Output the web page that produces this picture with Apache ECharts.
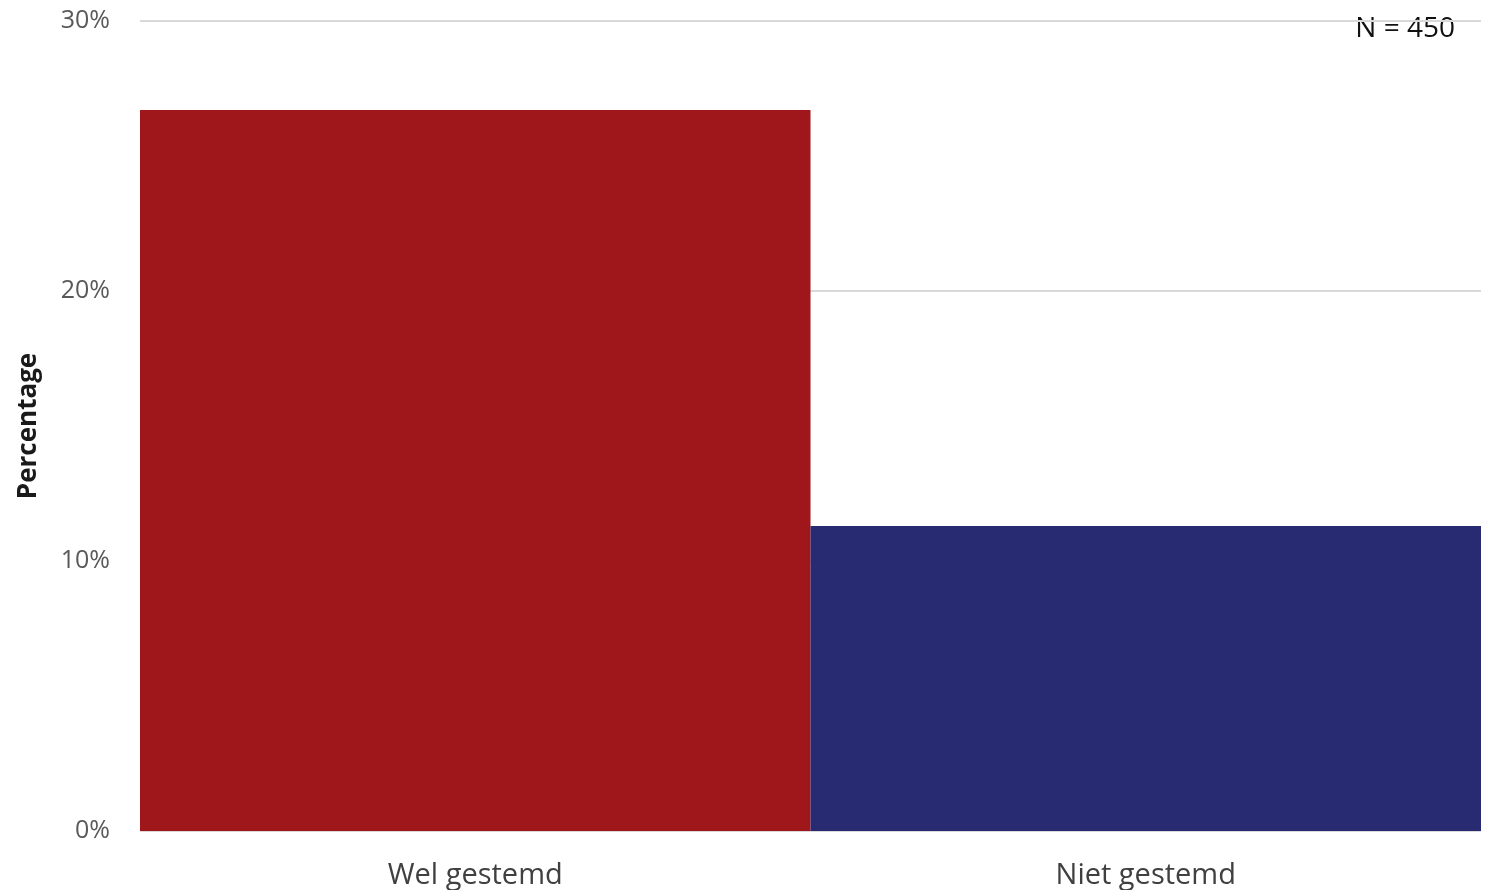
<!DOCTYPE html>
<html><head><meta charset="utf-8">
<script src="https://cdn.jsdelivr.net/npm/echarts@6/dist/echarts.min.js"></script>
<style>html,body{margin:0;padding:0;background:#fff}#c{width:1493px;height:890px}</style>
</head><body><div id="c"></div>
<script>
const categories = ['Wel gestemd', 'Niet gestemd'];
const values = [26.7, 11.3];
const barColors = ['#A0171B', '#282A72'];
const yTicks = [0, 10, 20, 30];

const chart = echarts.init(document.getElementById('c'));
chart.setOption({
  animation: false,
  grid: { left: 140, right: 12, top: 21, bottom: 58 },
  xAxis: {
    type: 'category', data: categories,
    axisLine: { show: false }, axisTick: { show: false },
    axisLabel: { color: '#404040', fontSize: 29, fontFamily: 'Open Sans', margin: 30 }
  },
  yAxis: {
    type: 'value', min: yTicks[0], max: yTicks[yTicks.length - 1], interval: 10,
    name: 'Percentage', nameLocation: 'middle', nameGap: 98, nameRotate: 90,
    nameTextStyle: { color: '#1a1a1a', fontSize: 26, fontWeight: 'bold', fontFamily: 'Open Sans' },
    axisLabel: { color: '#595959', fontSize: 25, fontFamily: 'Open Sans', margin: 30, formatter: '{value}%' },
    splitLine: { lineStyle: { color: '#d9d9d9', width: 2 } },
    axisLine: { show: false }, axisTick: { show: false }
  },
  series: [{
    type: 'bar', barCategoryGap: 0,
    data: values.map((v, i) => ({ value: v, itemStyle: { color: barColors[i] } }))
  }],
  graphic: [{
    type: 'text', right: 38, top: 15,
    style: { text: 'N = 450', fill: '#111', fontSize: 28, fontFamily: 'Open Sans' }
  }]
});
</script></body></html>
